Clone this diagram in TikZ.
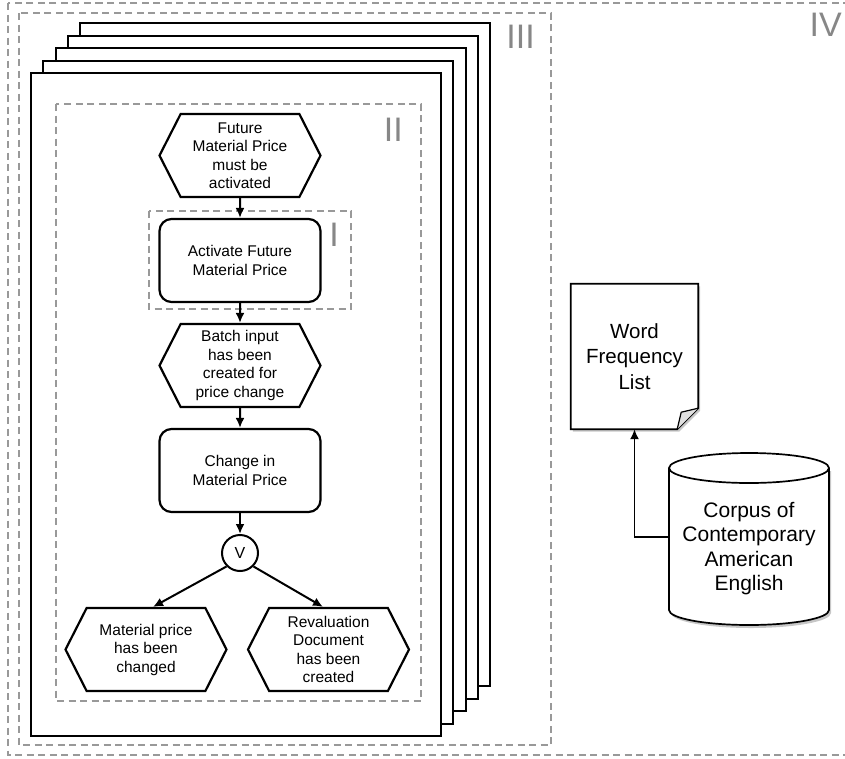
\documentclass[tikz,border=0pt]{standalone}
\usepackage{fontspec}
\setmainfont{Liberation Sans}
\usepackage{tikz}
\usetikzlibrary{arrows.meta,shapes.symbols,backgrounds}

\tikzset{
  epcevent/.style={signal, signal to=west and east, signal pointer angle=126,
    draw, line width=2.2pt, minimum width=161, minimum height=83, inner sep=0pt,
    align=center, font=\fontsize{15.5}{18.5}\selectfont},
  epcfunc/.style={rectangle, rounded corners=12pt, draw, line width=2.2pt,
    minimum width=161, minimum height=83, align=center,
    font=\fontsize{15.5}{18.5}\selectfont},
  epcxor/.style={circle, draw, line width=2pt, minimum size=36, inner sep=0pt,
    font=\fontsize{16}{16}\selectfont},
  epcarrow/.style={->, line width=2pt},
  dashbox/.style={draw=black!40, line width=1.2pt, dash pattern=on 7pt off 4.5pt},
  romanlbl/.style={text=black!47, font=\fontsize{34}{34}\selectfont, inner sep=0pt, anchor=north east},
  bigtext/.style={align=center, font=\fontsize{20.5}{25.5}\selectfont},
}

\begin{document}
\begin{tikzpicture}[x=1pt, y=-1pt, >={Latex[length=10pt,width=9pt]}]
  \useasboundingbox (0,0) rectangle (845,758);
  % levels IV and III
  \draw[dashbox] (8,3) rectangle (850,755);
  \draw[dashbox] (19,13) rectangle (551,745);
  \node[romanlbl] (lIV) at (842,13) {IV};
  \node[romanlbl] (lIII) at (535,25) {III};
  % stacked process sheets
  \foreach \k in {4,3,2,1,0}
    \draw[fill=white, line width=2pt] (31+12.3*\k,73-12.5*\k) rectangle +(410,663);
  % levels II and I
  \draw[dashbox] (56,104) rectangle (421,701);
  \node[romanlbl] (lII) at (403,118) {II};
  \draw[dashbox] (149,211) rectangle (351,309);
  \node[romanlbl] (lI) at (339,223) {I};

  % process chain
  \node[epcevent] (fmp) at (240,155.5) {Future\\Material Price\\must be\\activated};
  \node[epcfunc] (act) at (240,260.5) {Activate Future\\Material Price};
  \node[epcevent] (batch) at (240,365.5) {Batch input\\has been\\created for\\price change};
  \node[epcfunc] (chg) at (240,470.5) {Change in\\Material Price};
  \node[epcxor] (xor) at (240,553) {V};
  \node[epcevent] (mpc) at (146,649.5) {Material price\\has been\\changed};
  \node[epcevent] (rdc) at (328.5,649.5) {Revaluation\\Document\\has been\\created};

  \draw[epcarrow] (fmp) -- (act);
  \draw[epcarrow] (act) -- (batch);
  \draw[epcarrow] (batch) -- (chg);
  \draw[epcarrow] (chg) -- (xor);
  \draw[epcarrow] (xor.south west) -- ([xshift=7pt]mpc.north);
  \draw[epcarrow] (xor.south east) -- ([xshift=-5.5pt]rdc.north);

  % word frequency list (document)
  \node[bigtext, minimum width=127, minimum height=145] (wfl) at (634.5,356.5) {Word\\Frequency\\List};
  \begin{scope}[on background layer]
    \fill[black!22] ([shift={(2pt,-2.5pt)}]wfl.north west) -- ([shift={(2pt,-2.5pt)}]wfl.north east)
      -- ([shift={(2pt,18.5pt)}]wfl.south east) -- ([shift={(-19pt,-2.5pt)}]wfl.south east)
      -- ([shift={(2pt,-2.5pt)}]wfl.south west) -- cycle;
    \draw[line width=1.7pt, fill=white] (wfl.north west) -- (wfl.north east)
      -- ([yshift=21pt]wfl.south east) -- ([xshift=-21pt]wfl.south east)
      -- (wfl.south west) -- cycle;
    \draw[line width=1.2pt, fill=black!12, line join=round] ([xshift=-21pt]wfl.south east)
      -- ([xshift=-17pt,yshift=17pt]wfl.south east) -- ([yshift=21pt]wfl.south east);
  \end{scope}

  % corpus (database)
  \fill[black!22] (671,471) -- (671,613)
    arc[start angle=180, end angle=360, x radius=80pt, y radius=15pt] -- (831,471) -- cycle;
  \draw[line width=1.7pt, fill=white] (669,468) -- (669,610)
    arc[start angle=180, end angle=360, x radius=80pt, y radius=15pt] -- (829,468)
    arc[start angle=0, end angle=180, x radius=80pt, y radius=15pt] -- cycle;
  \draw[line width=1.7pt] (669,468)
    arc[start angle=180, end angle=360, x radius=80pt, y radius=15pt];
  \node[bigtext, minimum width=160, font=\fontsize{21}{24.5}\selectfont]
    (coca) at (749,548.5) {Corpus of\\Contemporary\\American\\English};

  \draw[->, line width=1.7pt] ([yshift=11.5pt]coca.west) -| (wfl.south);
\end{tikzpicture}
\end{document}
